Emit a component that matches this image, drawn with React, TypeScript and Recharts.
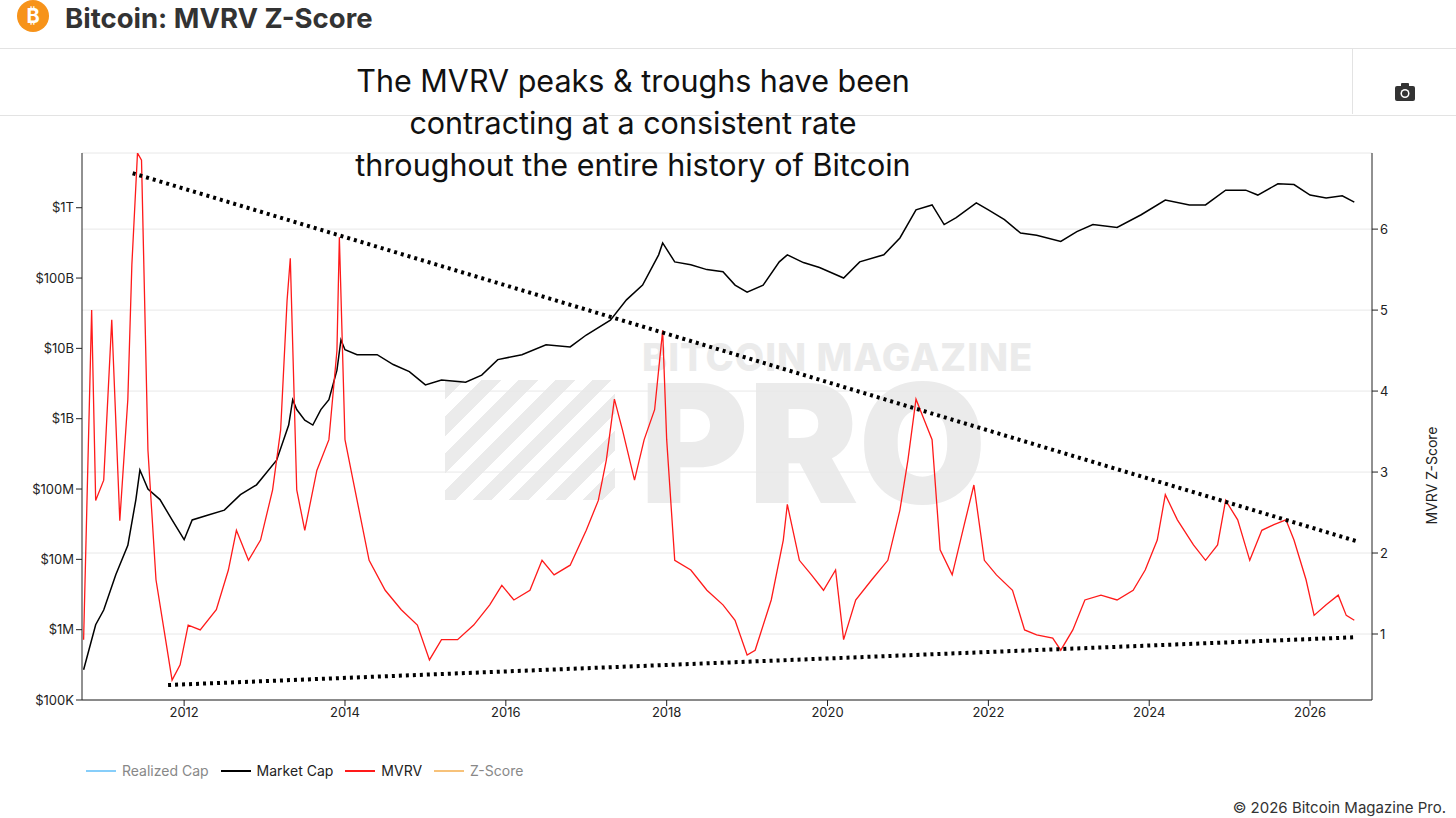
import { ComposedChart, Line, XAxis, YAxis, CartesianGrid } from 'recharts';

// Market cap, log10 of USD
const mcapYears = [2010.75, 2010.9, 2011.0, 2011.15, 2011.3, 2011.4, 2011.45, 2011.55, 2011.7, 2011.85, 2012.0, 2012.1, 2012.3, 2012.5, 2012.7, 2012.9, 2013.0, 2013.15, 2013.3, 2013.35, 2013.4, 2013.5, 2013.6, 2013.7, 2013.8, 2013.9, 2013.95, 2014.0, 2014.15, 2014.4, 2014.6, 2014.8, 2015.0, 2015.2, 2015.5, 2015.7, 2015.9, 2016.2, 2016.5, 2016.8, 2017.0, 2017.3, 2017.5, 2017.7, 2017.9, 2017.95, 2018.1, 2018.3, 2018.5, 2018.7, 2018.85, 2019.0, 2019.2, 2019.4, 2019.5, 2019.7, 2019.9, 2020.2, 2020.4, 2020.7, 2020.9, 2021.1, 2021.3, 2021.45, 2021.6, 2021.85, 2022.0, 2022.2, 2022.4, 2022.6, 2022.9, 2023.1, 2023.3, 2023.6, 2023.9, 2024.2, 2024.5, 2024.7, 2024.95, 2025.2, 2025.35, 2025.6, 2025.8, 2026.0, 2026.2, 2026.4, 2026.55];
const mcapLog = [5.43, 6.07, 6.28, 6.78, 7.2, 7.85, 8.27, 8.0, 7.85, 7.56, 7.28, 7.56, 7.63, 7.7, 7.92, 8.06, 8.2, 8.41, 8.91, 9.27, 9.13, 8.98, 8.91, 9.13, 9.27, 9.69, 10.12, 9.98, 9.91, 9.91, 9.77, 9.67, 9.48, 9.55, 9.52, 9.62, 9.84, 9.91, 10.05, 10.02, 10.19, 10.4, 10.69, 10.9, 11.33, 11.5, 11.23, 11.19, 11.12, 11.09, 10.9, 10.8, 10.9, 11.23, 11.33, 11.22, 11.15, 11.0, 11.23, 11.33, 11.57, 11.97, 12.04, 11.76, 11.86, 12.07, 11.97, 11.83, 11.64, 11.61, 11.52, 11.66, 11.76, 11.72, 11.9, 12.11, 12.04, 12.04, 12.25, 12.25, 12.18, 12.34, 12.33, 12.18, 12.14, 12.17, 12.08];

// MVRV Z-Score
const mvrvYears = [2010.75, 2010.85, 2010.9, 2011.0, 2011.1, 2011.2, 2011.3, 2011.35, 2011.42, 2011.47, 2011.55, 2011.65, 2011.75, 2011.85, 2011.95, 2012.05, 2012.2, 2012.4, 2012.55, 2012.65, 2012.8, 2012.95, 2013.1, 2013.2, 2013.28, 2013.32, 2013.4, 2013.5, 2013.65, 2013.8, 2013.9, 2013.93, 2014.0, 2014.1, 2014.3, 2014.5, 2014.7, 2014.9, 2015.05, 2015.2, 2015.4, 2015.6, 2015.8, 2015.95, 2016.1, 2016.3, 2016.45, 2016.6, 2016.8, 2017.0, 2017.15, 2017.25, 2017.35, 2017.45, 2017.6, 2017.72, 2017.85, 2017.95, 2018.0, 2018.1, 2018.3, 2018.5, 2018.7, 2018.85, 2019.0, 2019.1, 2019.3, 2019.45, 2019.5, 2019.65, 2019.8, 2019.95, 2020.1, 2020.2, 2020.35, 2020.55, 2020.75, 2020.9, 2021.0, 2021.1, 2021.2, 2021.3, 2021.4, 2021.55, 2021.7, 2021.82, 2021.95, 2022.1, 2022.3, 2022.45, 2022.6, 2022.8, 2022.9, 2023.05, 2023.2, 2023.4, 2023.6, 2023.8, 2023.95, 2024.1, 2024.2, 2024.35, 2024.55, 2024.7, 2024.85, 2024.95, 2025.1, 2025.25, 2025.4, 2025.55, 2025.7, 2025.8, 2025.95, 2026.05, 2026.2, 2026.35, 2026.45, 2026.55];
const mvrvValues = [0.93, 5.0, 2.65, 2.9, 4.88, 2.4, 3.9, 5.56, 6.94, 6.85, 3.27, 1.67, 1.05, 0.43, 0.62, 1.11, 1.05, 1.3, 1.79, 2.28, 1.91, 2.16, 2.78, 3.52, 5.12, 5.64, 2.78, 2.28, 3.02, 3.4, 4.5, 5.9, 3.4, 2.9, 1.91, 1.54, 1.3, 1.11, 0.68, 0.93, 0.93, 1.11, 1.36, 1.6, 1.42, 1.54, 1.91, 1.73, 1.85, 2.28, 2.65, 3.15, 3.9, 3.52, 2.9, 3.4, 3.77, 4.75, 3.4, 1.91, 1.79, 1.54, 1.36, 1.17, 0.74, 0.8, 1.42, 2.16, 2.6, 1.91, 1.73, 1.54, 1.79, 0.93, 1.42, 1.67, 1.91, 2.53, 3.15, 3.9, 3.65, 3.4, 2.04, 1.73, 2.35, 2.84, 1.91, 1.73, 1.54, 1.05, 0.99, 0.95, 0.8, 1.05, 1.42, 1.48, 1.42, 1.54, 1.79, 2.16, 2.72, 2.41, 2.1, 1.91, 2.1, 2.65, 2.41, 1.91, 2.28, 2.35, 2.41, 2.16, 1.67, 1.23, 1.36, 1.48, 1.23, 1.17];

// Trend lines (start, end)
const upperTrend = [{ x: 2011.36, y: 6.69 }, { x: 2026.6, y: 2.14 }];
const lowerTrend = [{ x: 2011.8, y: 0.37 }, { x: 2026.56, y: 0.96 }];

const yearTicks = [2012, 2014, 2016, 2018, 2020, 2022, 2024, 2026];
const capTicks = [1e5, 1e6, 1e7, 1e8, 1e9, 1e10, 1e11, 1e12];
const capLabels = ['$100K', '$1M', '$10M', '$100M', '$1B', '$10B', '$100B', '$1T'];
const zTicks = [1, 2, 3, 4, 5, 6];

const legendItems = [
  { name: 'Realized Cap', color: '#87cefa', text: '#888' },
  { name: 'Market Cap', color: '#000', text: '#222' },
  { name: 'MVRV', color: '#ff1a1a', text: '#222' },
  { name: 'Z-Score', color: '#f7c27a', text: '#888' },
];

const mcapData = mcapYears.map((x, i) => ({ x, cap: Math.pow(10, mcapLog[i]) }));
const mvrvData = mvrvYears.map((x, i) => ({ x, z: mvrvValues[i] }));

const font = 'Inter, "Open Sans", sans-serif';

export default function App() {
  return (
    <div style={{ position: 'absolute', left: 0, top: 0, width: 1456, height: 818, background: '#fff', fontFamily: font, overflow: 'hidden' }}>
      <div style={{ position: 'absolute', left: 17, top: 0, width: 32, height: 32, borderRadius: 16, background: '#f7931a', color: '#fff', fontWeight: 700, fontSize: 20, textAlign: 'center', lineHeight: '32px' }}>₿</div>
      <div style={{ position: 'absolute', left: 65, top: 0, fontSize: 27.5, fontWeight: 700, color: '#333', lineHeight: '36px' }}>Bitcoin: MVRV Z-Score</div>
      <div style={{ position: 'absolute', left: 0, right: 0, top: 48, height: 66, borderTop: '1px solid #e3e3e3', borderBottom: '1px solid #e3e3e3' }} />
      <div style={{ position: 'absolute', left: 1352, top: 48, width: 1, height: 66, background: '#e3e3e3' }} />
      <svg style={{ position: 'absolute', left: 1394, top: 82 }} width={22} height={20} viewBox="0 0 22 20">
        <rect x={1} y={4} width={20} height={15} rx={2} fill="#333" />
        <rect x={7} y={1} width={8} height={5} rx={1} fill="#333" />
        <circle cx={11} cy={11.5} r={4.5} fill="#fff" />
        <circle cx={11} cy={11.5} r={3} fill="#333" />
      </svg>
      {/* watermark */}
      <div style={{ position: 'absolute', left: 642, top: 338, fontSize: 38, fontWeight: 800, color: '#ebebeb', letterSpacing: 1, lineHeight: '38px' }}>BITCOIN MAGAZINE</div>
      <div style={{ position: 'absolute', left: 640, top: 378, fontSize: 165, fontWeight: 900, color: '#ebebeb', lineHeight: '130px' }}>PRO</div>
      <div style={{ position: 'absolute', left: 445, top: 380, width: 170, height: 120, background: 'repeating-linear-gradient(135deg, #ebebeb 0 14px, transparent 14px 26px)' }} />
      <div style={{ position: 'absolute', left: 0, top: 0 }}>
        <ComposedChart width={1456} height={818} margin={{ top: 153, right: 24, bottom: 88, left: 0 }}>
          <CartesianGrid yAxisId="z" vertical={false} stroke="#e8e8e8" />
          <XAxis dataKey="x" type="number" domain={[2010.73, 2026.77]} ticks={yearTicks} allowDataOverflow
            tick={{ fontSize: 13, fill: '#222' }} stroke="#222" height={30} />
          <YAxis yAxisId="cap" dataKey="cap" scale="log" domain={[1e5, 6e12]} ticks={capTicks} allowDataOverflow
            tickFormatter={(v: number) => capLabels[capTicks.indexOf(v)] ?? ''}
            tick={{ fontSize: 13, fill: '#222' }} stroke="#222" width={82} />
          <YAxis yAxisId="z" orientation="right" dataKey="z" domain={[0.185, 6.94]} ticks={zTicks} allowDataOverflow
            tick={{ fontSize: 13, fill: '#222' }} stroke="#222" width={60}
            label={{ value: 'MVRV Z-Score', angle: -90, position: 'insideRight', offset: 0, style: { fontSize: 14, fill: '#222' } }} />
          <Line yAxisId="cap" data={mcapData} dataKey="cap" stroke="#000" strokeWidth={1.5} dot={false} isAnimationActive={false} />
          <Line yAxisId="z" data={mvrvData} dataKey="z" stroke="#ff1a1a" strokeWidth={1.3} dot={false} isAnimationActive={false} />
          <Line yAxisId="z" data={upperTrend} dataKey="y" stroke="#000" strokeWidth={4} strokeDasharray="3 4" dot={false} isAnimationActive={false} />
          <Line yAxisId="z" data={lowerTrend} dataKey="y" stroke="#000" strokeWidth={4} strokeDasharray="3 4" dot={false} isAnimationActive={false} />
        </ComposedChart>
      </div>
      <div style={{ position: 'absolute', left: 283, width: 700, top: 60, textAlign: 'center', fontSize: 30.5, lineHeight: '42px', color: '#111' }}>
        The MVRV peaks &amp; troughs have been<br />contracting at a consistent rate<br />throughout the entire history of Bitcoin
      </div>
      <div style={{ position: 'absolute', left: 86, top: 762, display: 'flex', gap: 12, fontSize: 14 }}>
        {legendItems.map((l) => (
          <div key={l.name} style={{ display: 'flex', alignItems: 'center', gap: 6 }}>
            <div style={{ width: 30, height: 2, background: l.color }} />
            <span style={{ color: l.text }}>{l.name}</span>
          </div>
        ))}
      </div>
      <div style={{ position: 'absolute', right: 10, top: 798, fontSize: 15, color: '#333' }}>© 2026 Bitcoin Magazine Pro.</div>
    </div>
  );
}
